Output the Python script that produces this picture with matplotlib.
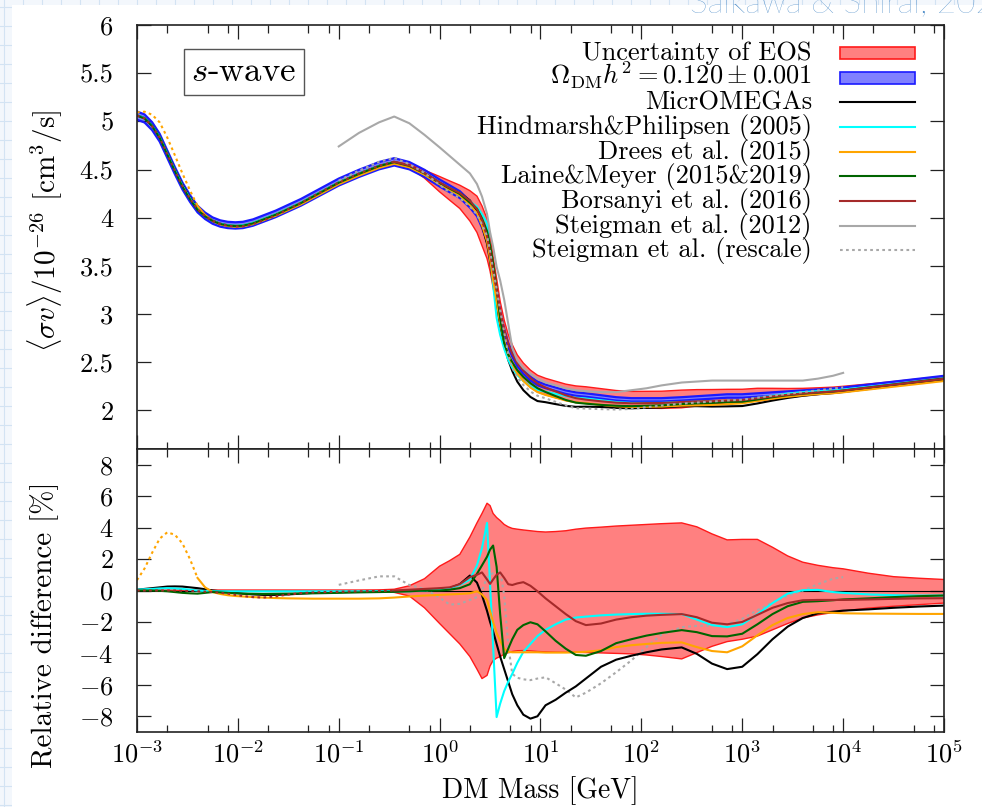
import numpy as np
import matplotlib.pyplot as plt
from matplotlib.ticker import FixedLocator, FixedFormatter, NullFormatter, LogFormatterSciNotation
from matplotlib.patches import Rectangle
from matplotlib.lines import Line2D

plt.rcParams['font.family'] = 'serif'
plt.rcParams['font.serif'] = ['cmr10']
plt.rcParams['mathtext.fontset'] = 'cm'
plt.rcParams['axes.formatter.use_mathtext'] = True
plt.rcParams['axes.unicode_minus'] = False

# log10 of DM mass [GeV]
log_m = [-3.0, -2.925, -2.85, -2.775, -2.7, -2.625, -2.55, -2.475, -2.4, -2.325,
         -2.25, -2.175, -2.1, -2.025, -1.95, -1.85, -1.75, -1.625, -1.5, -1.375,
         -1.25, -1.0, -0.8, -0.6, -0.45, -0.3, -0.15, 0.0, 0.1, 0.2,
         0.3, 0.37, 0.42, 0.47, 0.5, 0.53, 0.565, 0.6, 0.64, 0.68,
         0.72, 0.77, 0.83, 0.9, 0.97, 1.05, 1.15, 1.25, 1.35, 1.45,
         1.6, 1.75, 1.9, 2.05, 2.2, 2.4, 2.55, 2.7, 2.85, 3.0,
         3.15, 3.3, 3.45, 3.6, 3.75, 3.9, 4.0, 4.25, 4.5, 4.75, 5.0]

# reference <sigma v> / 1e-26 cm^3/s
sv_ref = [5.06, 5.03, 4.95, 4.83, 4.66, 4.49, 4.33, 4.20, 4.09, 4.02,
          3.97, 3.94, 3.925, 3.92, 3.925, 3.95, 3.99, 4.04, 4.10, 4.16,
          4.23, 4.37, 4.46, 4.54, 4.58, 4.54, 4.46, 4.36, 4.30, 4.24,
          4.14, 4.05, 3.93, 3.78, 3.62, 3.43, 3.22, 3.00, 2.82, 2.68,
          2.58, 2.48, 2.40, 2.33, 2.28, 2.25, 2.22, 2.19, 2.17, 2.16,
          2.14, 2.12, 2.11, 2.11, 2.11, 2.12, 2.13, 2.14, 2.15, 2.15,
          2.16, 2.17, 2.18, 2.19, 2.20, 2.21, 2.22, 2.25, 2.28, 2.31, 2.34]

# Steigman et al. (2012), original values
sv_steigman = [np.nan] * 21 + [
          4.74, 4.88, 4.99, 5.05, 4.98, 4.86, 4.73, 4.64, 4.55,
          4.46, 4.35, 4.22, 4.04, 3.85, 3.70, 3.49, 3.35, 3.15, 2.90,
          2.65, 2.52, 2.44, 2.38, 2.33, 2.29, 2.26, 2.23, 2.21, 2.20,
          2.19, 2.19, 2.21, 2.23, 2.26, 2.29, 2.30, 2.31, 2.31, 2.31,
          2.31, 2.31, 2.31, 2.31, 2.33, 2.36, 2.39] + [np.nan] * 4

omega_err = 0.001 / 0.120

# relative differences [%]
rd_eos_hi = [0.03] * 20 + [
          0.03, 0.03, 0.03, 0.04, 0.08, 0.3, 0.75, 1.55, 1.9, 2.3,
          3.4, 4.3, 4.9, 5.55, 5.4, 4.9, 4.64, 4.45, 4.2, 4.05,
          3.95, 3.9, 3.85, 3.8, 3.75, 3.72, 3.75, 3.8, 3.9, 3.97,
          4.03, 4.1, 4.15, 4.2, 4.25, 4.3, 4.05, 3.6, 3.22, 3.25,
          3.25, 2.75, 2.2, 1.8, 1.6, 1.45, 1.38, 1.1, 0.88, 0.78, 0.7]
rd_eos_lo = [-0.03] * 20 + [
          -0.03, -0.03, -0.04, -0.06, -0.12, -0.35, -1.1, -2.1, -2.75, -3.4,
          -4.2, -5.0, -5.6, -5.4, -4.8, -4.45, -4.3, -4.2, -4.05, -3.95,
          -3.88, -3.83, -3.82, -3.84, -3.88, -3.9, -3.92, -3.93, -3.93, -3.95,
          -3.97, -4.0, -4.03, -4.1, -4.2, -4.35, -3.95, -3.55, -3.25, -3.1,
          -2.9, -2.5, -2.1, -1.75, -1.55, -1.4, -1.3, -1.12, -1.0, -0.9, -0.8]
rd_micromegas = [0.05, 0.1, 0.15, 0.2, 0.25, 0.26, 0.25, 0.2, 0.15, 0.08,
          0.0, -0.05, -0.1, -0.15, -0.2, -0.25, -0.28, -0.28, -0.25, -0.2,
          -0.15, -0.1, -0.08, -0.05, -0.05, 0.0, 0.05, 0.1, 0.15, 0.4,
          0.95, 0.5, -0.3, -1.3, -2.0, -2.6, -3.4, -4.2, -5.0, -5.8,
          -6.6, -7.3, -7.9, -8.15, -8.0, -7.3, -6.95, -6.5, -6.1, -5.6,
          -4.85, -4.4, -4.15, -3.93, -3.75, -3.62, -4.03, -4.65, -5.0, -4.85,
          -4.05, -3.1, -2.3, -1.75, -1.45, -1.35, -1.28, -1.2, -1.1, -1.02, -0.96]
rd_hindmarsh = [0.05, 0.08, 0.1, 0.13, 0.15, 0.13, 0.1, 0.05, 0.0, -0.03,
          -0.05, -0.05, -0.05, -0.05, -0.05, -0.05, -0.05, -0.05, -0.05, -0.05,
          -0.05, -0.05, -0.05, -0.05, -0.05, -0.05, 0.0, 0.05, 0.15, 0.35,
          0.7, 1.6, 2.7, 4.3, 0.4, -3.5, -8.05, -7.2, -6.4, -5.8,
          -5.3, -4.6, -3.9, -3.4, -2.9, -2.5, -2.15, -1.85, -1.72, -1.66,
          -1.58, -1.53, -1.5, -1.48, -1.48, -1.5, -1.85, -2.2, -2.33, -2.15,
          -1.5, -0.8, -0.2, 0.02, 0.04, -0.1, -0.15, -0.25, -0.3, -0.32, -0.32]
rd_drees = [0.66, 1.4, 2.4, 3.3, 3.7, 3.55, 3.0, 2.0, 0.8, 0.2,
          -0.1, -0.22, -0.3, -0.35, -0.38, -0.42, -0.45, -0.48, -0.5, -0.51,
          -0.52, -0.52, -0.52, -0.5, -0.45, -0.38, -0.32, -0.28, -0.25, -0.22,
          -0.18, -0.05, -0.25, -0.6, -1.3, -2.0, -2.7, -3.2, -3.7, -3.9,
          -3.93, -3.93, -3.93, -3.93, -3.93, -3.95, -3.95, -3.95, -3.93, -3.9,
          -3.8, -3.6, -3.48, -3.4, -3.33, -3.3, -3.6, -3.85, -3.93, -3.55,
          -2.85, -2.2, -1.75, -1.5, -1.38, -1.42, -1.45, -1.47, -1.48, -1.49, -1.49]
rd_laine = [0.0, 0.0, 0.0, -0.02, -0.05, -0.1, -0.15, -0.18, -0.2, -0.15,
          -0.1, -0.12, -0.15, -0.18, -0.2, -0.21, -0.22, -0.21, -0.2, -0.19,
          -0.18, -0.15, -0.12, -0.1, -0.08, -0.05, 0.0, 0.0, 0.05, 0.15,
          0.4, 1.06, 1.6, 2.15, 2.6, 2.86, 1.5, -1.5, -4.3, -3.7,
          -3.1, -2.5, -2.2, -2.02, -2.15, -2.6, -3.2, -3.7, -4.1, -4.15,
          -3.85, -3.35, -3.1, -2.87, -2.7, -2.52, -2.65, -2.9, -2.92, -2.75,
          -2.15, -1.5, -1.0, -0.72, -0.68, -0.62, -0.57, -0.5, -0.42, -0.36, -0.32]
rd_borsanyi = [0.0, 0.0, 0.0, 0.0, 0.0, 0.0, -0.02, -0.03, -0.05, -0.07,
          -0.1, -0.15, -0.2, -0.28, -0.35, -0.42, -0.45, -0.38, -0.25, -0.17,
          -0.12, -0.08, -0.05, -0.03, 0.0, 0.05, 0.1, 0.15, 0.2, 0.4,
          0.85, 1.0, 1.15, 0.7, 0.42, 0.7, 1.0, 1.15, 0.8, 0.4,
          0.35, 0.45, 0.53, 0.3, -0.05, -0.5, -1.0, -1.5, -1.95, -2.2,
          -2.1, -1.85, -1.7, -1.6, -1.55, -1.5, -1.7, -2.05, -2.15, -2.0,
          -1.55, -1.1, -0.8, -0.62, -0.6, -0.6, -0.6, -0.57, -0.53, -0.5, -0.49]
rd_steigman_rescale = [np.nan] * 21 + [
          0.36, 0.64, 0.9, 0.9, 0.35, 0.1, -0.45, -0.9, -0.85,
          -0.6, -0.42, 0.0, 0.85, 1.0, 1.1, 1.2, 1.27, -0.3, -3.5,
          -5.3, -5.55, -5.65, -5.7, -5.6, -5.52, -5.9, -6.3, -6.8, -6.5,
          -5.9, -5.2, -4.45, -3.6, -2.8, -2.33, -2.25, -2.23, -2.15, -1.8,
          -1.25, -0.75, -0.35, 0.0, 0.4, 0.75, 0.85] + [np.nan] * 4

mass = 10.0 ** np.array(log_m)
ref = np.array(sv_ref)


def to_sv(rd):
    return ref * (1 + np.array(rd) / 100)


red_fill, red_edge = '#ff8080', '#ff1a1a'
blue_fill, blue_edge = '#8080ff', '#1a1aff'
c_black, c_cyan, c_orange = 'black', '#00ffff', '#ffa500'
c_green, c_brown, c_gray = '#006400', '#a52a2a', '#a8a8a8'
dots = (0, (1.3, 1.6))
lw = 1.5
n_dr = 9     # Drees et al. dotted below ~4e-3 GeV
n_bo = 25    # Borsanyi et al. dotted below ~0.35 GeV

fig = plt.figure(figsize=(9.82, 8.07), dpi=100)
fig.patch.set_facecolor('#f3f7fc')
for gx in np.arange(4, 982, 19):
    fig.add_artist(Line2D([gx / 982, gx / 982], [0, 1], transform=fig.transFigure,
                          color='#d3e3f3', lw=0.8, zorder=-3))
for gy in np.arange(2, 807, 19):
    fig.add_artist(Line2D([0, 1], [gy / 807, gy / 807], transform=fig.transFigure,
                          color='#d3e3f3', lw=0.8, zorder=-3))
fig.add_artist(Rectangle((12 / 982, 0), 1, 1 - 5 / 807, transform=fig.transFigure,
                         facecolor='white', edgecolor='none', zorder=-2))
fig.text(690 / 982, 1 - 12 / 807, 'Saikawa & Shirai, 2020', color='#4d8cc8',
         fontsize=24, family='Lato', fontweight='light', ha='left', va='baseline')

ax1 = fig.add_axes([137 / 982, 1 - 449 / 807, 807 / 982, 424 / 807])
ax2 = fig.add_axes([137 / 982, 1 - 732 / 807, 807 / 982, 283 / 807])

# ---- top panel
ax1.fill_between(mass, to_sv(rd_eos_lo), to_sv(rd_eos_hi), facecolor=red_fill, edgecolor='none')
ax1.plot(mass, to_sv(rd_eos_lo), color=red_edge, lw=1)
ax1.plot(mass, to_sv(rd_eos_hi), color=red_edge, lw=1)
ax1.fill_between(mass, ref * (1 - omega_err), ref * (1 + omega_err), facecolor=blue_fill, edgecolor='none')
ax1.plot(mass, ref * (1 - omega_err), color=blue_edge, lw=1.6)
ax1.plot(mass, ref * (1 + omega_err), color=blue_edge, lw=1.6)

ax1.plot(mass, to_sv(rd_micromegas), color=c_black, lw=lw)
ax1.plot(mass, to_sv(rd_hindmarsh), color=c_cyan, lw=lw)
ax1.plot(mass[:n_dr], to_sv(rd_drees)[:n_dr], color=c_orange, lw=lw, ls=dots)
ax1.plot(mass[n_dr - 1:], to_sv(rd_drees)[n_dr - 1:], color=c_orange, lw=lw)
ax1.plot(mass, to_sv(rd_laine), color=c_green, lw=lw)
ax1.plot(mass[:n_bo], to_sv(rd_borsanyi)[:n_bo], color=c_brown, lw=lw, ls=dots)
ax1.plot(mass[n_bo - 1:], to_sv(rd_borsanyi)[n_bo - 1:], color=c_brown, lw=lw)
ax1.plot(mass, sv_steigman, color=c_gray, lw=lw)
ax1.plot(mass, to_sv(rd_steigman_rescale), color=c_gray, lw=lw, ls=dots)

# ---- bottom panel
ax2.fill_between(mass, rd_eos_lo, rd_eos_hi, facecolor=red_fill, edgecolor='none')
ax2.plot(mass, rd_eos_lo, color=red_edge, lw=1)
ax2.plot(mass, rd_eos_hi, color=red_edge, lw=1)
ax2.axhline(0, color='black', lw=0.8)
ax2.plot(mass, rd_steigman_rescale, color=c_gray, lw=lw, ls=dots)
ax2.plot(mass, rd_micromegas, color=c_black, lw=lw)
ax2.plot(mass, rd_hindmarsh, color=c_cyan, lw=lw)
ax2.plot(mass[:n_dr], rd_drees[:n_dr], color=c_orange, lw=lw, ls=dots)
ax2.plot(mass[n_dr - 1:], rd_drees[n_dr - 1:], color=c_orange, lw=lw)
ax2.plot(mass, rd_laine, color=c_green, lw=lw)
ax2.plot(mass[:n_bo], rd_borsanyi[:n_bo], color=c_brown, lw=lw, ls=dots)
ax2.plot(mass[n_bo - 1:], rd_borsanyi[n_bo - 1:], color=c_brown, lw=lw)

# ---- axes styling
minor_x = [c * 10.0 ** k for k in range(-3, 5) for c in (2, 5, 8)]
for ax in (ax1, ax2):
    ax.set_xscale('log')
    ax.set_xlim(1e-3, 1e5)
    ax.xaxis.set_major_locator(FixedLocator(10.0 ** np.arange(-3, 6)))
    ax.xaxis.set_minor_locator(FixedLocator(minor_x))
    ax.xaxis.set_minor_formatter(NullFormatter())
    ax.tick_params(which='both', direction='in', top=True, right=True,
                   labelsize=19, width=0.9, color='#222222')
    ax.tick_params(which='major', length=10.4)
    ax.tick_params(which='minor', length=5.4)
    ax.tick_params(axis='y', which='major', pad=17)
    ax.tick_params(axis='x', which='major', pad=6)
    for s in ax.spines.values():
        s.set_linewidth(1.2)
        s.set_color('#222222')

ax1.set_ylim(1.6, 6)
ax1.yaxis.set_major_locator(FixedLocator([2, 2.5, 3, 3.5, 4, 4.5, 5, 5.5, 6]))
ax1.yaxis.set_major_formatter(FixedFormatter(['2', '2.5', '3', '3.5', '4', '4.5', '5', '5.5', '6']))
ax1.tick_params(labelbottom=False)

ax2.set_ylim(-9, 9)
y2 = [-8, -6, -4, -2, 0, 2, 4, 6, 8]
ax2.yaxis.set_major_locator(FixedLocator(y2))
ax2.yaxis.set_major_formatter(FixedFormatter([r'$%d$' % v for v in y2]))
ax2.xaxis.set_major_formatter(LogFormatterSciNotation())

fig.text(45 / 982, 1 - 231 / 807, r'$\langle\sigma v\rangle/10^{-26}$ [cm$^3$/s]',
         rotation=90, ha='center', va='center', fontsize=21)
fig.text(45 / 982, 1 - 625 / 807, 'Relative difference [%]',
         rotation=90, ha='center', va='center', fontsize=21)
fig.text(540 / 982, 1 - 798 / 807, 'DM Mass [GeV]', ha='center', va='baseline', fontsize=20)

ax1.text((244 - 137) / 807, (449 - 72) / 424, '$s$-wave', transform=ax1.transAxes,
         ha='center', va='center', fontsize=25,
         bbox=dict(boxstyle='square,pad=0.22', facecolor='white', edgecolor='#555555', lw=1))

# ---- legend (right aligned labels, keys on the right)
entries = [
    ('Uncertainty of EOS', 'patch', red_fill, red_edge),
    (r'$\Omega_{\rm DM}h^2 = 0.120 \pm 0.001$', 'patch', blue_fill, blue_edge),
    ('MicrOMEGAs', 'line', c_black, '-'),
    ('Hindmarsh&Philipsen (2005)', 'line', c_cyan, '-'),
    ('Drees et al. (2015)', 'line', c_orange, '-'),
    ('Laine&Meyer (2015&2019)', 'line', c_green, '-'),
    ('Borsanyi et al. (2016)', 'line', c_brown, '-'),
    ('Steigman et al. (2012)', 'line', c_gray, '-'),
    ('Steigman et al. (rescale)', 'line', c_gray, dots),
]
tx = (812 - 137) / 807
hx0, hx1 = (840 - 137) / 807, (915 - 137) / 807
for i, (label, kind, col, style) in enumerate(entries):
    yc = 53 + 24.67 * i
    ax1.text(tx, (449 - yc - 7) / 424, label, transform=ax1.transAxes,
             ha='right', va='baseline', fontsize=19)
    ya = (449 - yc) / 424
    if kind == 'patch':
        ax1.add_patch(Rectangle((hx0, ya - 6 / 424), hx1 - hx0, 12 / 424,
                                transform=ax1.transAxes, facecolor=col,
                                edgecolor=style, lw=1.2))
    else:
        ax1.add_line(Line2D([hx0, hx1], [ya, ya], transform=ax1.transAxes,
                            color=col, lw=lw, ls=style))

fig.savefig('out.png', dpi=100, facecolor=fig.get_facecolor())
